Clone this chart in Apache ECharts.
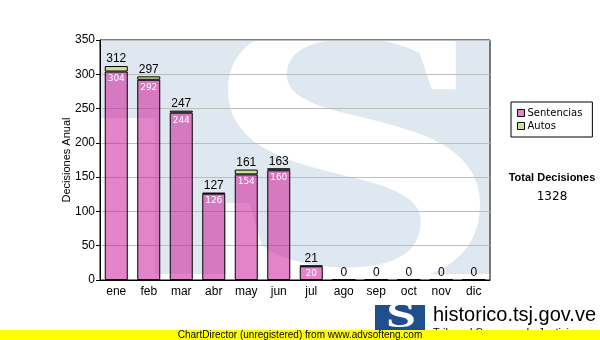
<!DOCTYPE html>
<html>
<head>
<meta charset="utf-8">
<script src="https://cdn.jsdelivr.net/npm/echarts@6/dist/echarts.min.js"></script>
<style>
  html, body { margin: 0; padding: 0; background: #fff; }
  #main { width: 600px; height: 340px; }
</style>
</head>
<body>
<div id="main"></div>
<script>
// datos del grafico
var meses = ["ene", "feb", "mar", "abr", "may", "jun", "jul", "ago", "sep", "oct", "nov", "dic"];
var sentencias = [304, 292, 244, 126, 154, 160, 20, 0, 0, 0, 0, 0];
var autos = [8, 5, 3, 1, 7, 3, 1, 0, 0, 0, 0, 0];
var totales = [312, 297, 247, 127, 161, 163, 21, 0, 0, 0, 0, 0];
var totalDecisiones = "1328";

var chart = echarts.init(document.getElementById("main"));

chart.setOption({
  animation: false,
  textStyle: { fontFamily: "Liberation Sans" },
  grid: {
    left: 100, top: 40, width: 390, height: 240,
    show: true, borderColor: "#000", borderWidth: 1, backgroundColor: "transparent"
  },
  legend: {
    orient: "vertical",
    left: 511, top: 102,
    width: 82,
    padding: [6, 10, 6, 6],
    borderColor: "#000", borderWidth: 1,
    itemWidth: 7, itemHeight: 7, itemGap: 3,
    icon: "rect",
    itemStyle: { borderColor: "#000", borderWidth: 1 },
    textStyle: { fontFamily: "DejaVu Sans", fontSize: 10, color: "#000", padding: [0, 0, 0, -2] },
    data: ["Sentencias", "Autos"]
  },
  xAxis: {
    type: "category",
    data: meses,
    axisLine: { lineStyle: { color: "#000" } },
    axisTick: { alignWithLabel: true, length: 4, lineStyle: { color: "#000" } },
    axisLabel: { color: "#000", fontSize: 12, margin: 6 }
  },
  yAxis: {
    type: "value",
    min: 0, max: 350, interval: 50,
    name: "Decisiones Anual",
    nameLocation: "middle",
    nameGap: 28,
    nameMoveOverlap: false,
    nameTextStyle: { fontSize: 11, color: "#000" },
    axisLine: { show: true, lineStyle: { color: "#000" } },
    axisTick: { show: true, length: 4, lineStyle: { color: "#000" } },
    axisLabel: { color: "#000", fontSize: 12, margin: 5 },
    splitLine: { lineStyle: { color: "#bdbdbd" } }
  },
  series: [
    {
      name: "Sentencias",
      type: "bar",
      stack: "t",
      barWidth: 23,
      data: sentencias,
      itemStyle: { color: "rgba(204, 20, 150, 0.52)", borderColor: "#000", borderWidth: 1 },
      label: {
        show: true,
        position: "insideTop",
        distance: 3,
        color: "#fff",
        fontFamily: "DejaVu Sans",
        fontSize: 9,
        formatter: function (p) { return p.value ? p.value : ""; }
      },
      z: 2
    },
    {
      name: "Autos",
      type: "bar",
      stack: "t",
      barWidth: 23,
      data: autos,
      itemStyle: { color: "#c8e496", borderColor: "#000", borderWidth: 1 },
      label: {
        show: true,
        position: "top",
        distance: 1,
        color: "#000",
        fontSize: 12,
        formatter: function (p) { return totales[p.dataIndex]; }
      },
      z: 3
    }
  ],
  graphic: [
    // fondo azul con la S de marca de agua
    { type: "rect", z: -3, shape: { x: 100, y: 40, width: 390, height: 240 }, style: { fill: "#dfe8f1" } },
    { type: "rect", z: -2, shape: { x: 100, y: 118, width: 55, height: 162 }, style: { fill: "#fff" } },
    { type: "rect", z: -2, shape: { x: 100, y: 274, width: 390, height: 6 }, style: { fill: "#fff" } },
    {
      type: "text", z: -2, x: 350, y: 380, scaleX: 1.38,
      style: { text: "S", fill: "#fff", font: "bold 400px 'Liberation Serif'", textAlign: "center", textVerticalAlign: "bottom" }
    },
    // textos a la derecha
    { type: "text", x: 552, y: 172, style: { text: "Total Decisiones", fill: "#000", font: "bold 11px 'Liberation Sans'", textAlign: "center" } },
    { type: "text", x: 552, y: 191, style: { text: totalDecisiones, fill: "#000", font: "12px 'DejaVu Sans'", textAlign: "center" } },
    // logo
    { type: "rect", shape: { x: 375, y: 305, width: 50, height: 35 }, style: { fill: "#1f4f8f" } },
    { type: "text", x: 401, y: 300, scaleX: 1.5, style: { text: "S", fill: "#fff", font: "bold 36px 'Liberation Serif'", textAlign: "center" } },
    { type: "text", x: 433, y: 305, style: { text: "historico.tsj.gov.ve", fill: "#000", font: "20px 'Liberation Sans'" } },
    { type: "text", x: 433, y: 327, style: { text: "Tribunal Supremo de Justicia", fill: "#000", font: "11px 'Liberation Sans'" } },
    // barra amarilla
    { type: "rect", shape: { x: 0, y: 330, width: 600, height: 10 }, style: { fill: "#ffff00" } },
    { type: "text", x: 300, y: 330, style: { text: "ChartDirector (unregistered) from www.advsofteng.com", fill: "#000", font: "10px 'Liberation Sans'", textAlign: "center" } }
  ]
});
</script>
</body>
</html>
